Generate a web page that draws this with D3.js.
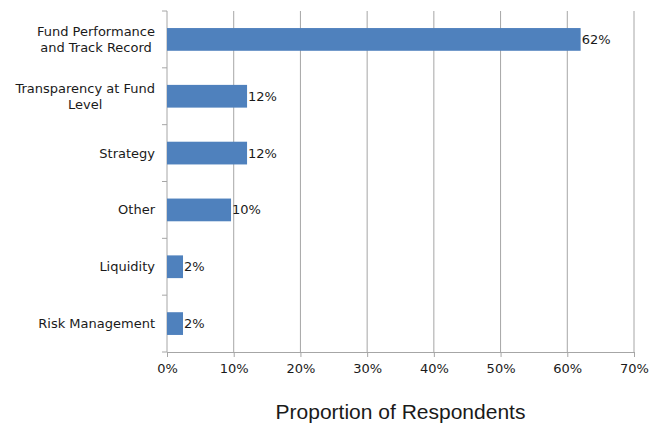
<!DOCTYPE html>
<html>
<head>
<meta charset="utf-8">
<script src="https://cdn.jsdelivr.net/npm/d3@7"></script>
<style>
  body { margin: 0; background: #fff; }
  text { font-family: "DejaVu Sans", sans-serif; fill: #1a1a1a; }
</style>
</head>
<body>
<svg id="chart" width="661" height="423"></svg>
<script>
// categories top to bottom
var categories = [
  ["Fund Performance", "and Track Record"],
  ["Transparency at Fund", "Level"],
  ["Strategy"],
  ["Other"],
  ["Liquidity"],
  ["Risk Management"]
]
var values = [62, 12, 12, 9.6, 2.4, 2.4]
var valueLabels = ["62%", "12%", "12%", "10%", "2%", "2%"]
var xTicks = [0, 10, 20, 30, 40, 50, 60, 70]

var svg = d3.select("#chart")
var margin = {left: 167, right: 27, top: 11, bottom: 71}
var width = 661 - margin.left - margin.right,
    height = 423 - margin.top - margin.bottom

var g = svg.append("g").attr("transform", "translate(" + margin.left + "," + margin.top + ")")

var x = d3.scaleLinear().domain([0, 70]).range([0, width])
var y = d3.scaleBand().domain(d3.range(categories.length)).range([0, height]).paddingInner(0.6).paddingOuter(0.3)

var gridColor = "#a6a6a6"

// vertical gridlines
g.append("g").selectAll("line")
  .data(xTicks.slice(1))
  .enter().append("line")
  .attr("x1", d => x(d)).attr("x2", d => x(d))
  .attr("y1", 0).attr("y2", height)
  .attr("stroke", gridColor).attr("stroke-width", 1)

// x axis
var xAxis = g.append("g")
  .attr("transform", "translate(0," + height + ")")
  .call(d3.axisBottom(x).tickValues(xTicks).tickFormat(d => d + "%").tickSize(5).tickSizeOuter(0).tickPadding(7))
xAxis.select(".domain").attr("stroke", gridColor)
xAxis.selectAll(".tick line").attr("stroke", gridColor)
xAxis.selectAll("text").style("font-size", "13px").attr("fill", "#1a1a1a")

// y axis: line with ticks at category boundaries
var yline = g.append("g")
yline.append("line")
  .attr("x1", 0).attr("x2", 0).attr("y1", 0).attr("y2", height)
  .attr("stroke", gridColor)
var step = height / categories.length
yline.selectAll(".bt")
  .data(d3.range(categories.length + 1))
  .enter().append("line")
  .attr("x1", -5).attr("x2", 0)
  .attr("y1", d => d * step).attr("y2", d => d * step)
  .attr("stroke", gridColor)

// bars
g.append("g").selectAll("rect")
  .data(values)
  .enter().append("rect")
  .attr("x", 0)
  .attr("y", (d, i) => y(i))
  .attr("width", d => x(d))
  .attr("height", y.bandwidth())
  .attr("fill", "#4f81bd")

// value labels
g.append("g").selectAll("text")
  .data(values)
  .enter().append("text")
  .attr("x", d => x(d) + 1)
  .attr("y", (d, i) => y(i) + y.bandwidth() / 2)
  .attr("dy", "0.35em")
  .style("font-size", "13px")
  .text((d, i) => valueLabels[i])

// category labels: wrapped lines are centred on each other, block right-aligned
var cat = g.append("g").selectAll("text")
  .data(categories)
  .enter().append("text")
  .attr("text-anchor", "middle")
  .style("font-size", "13px")
  .attr("transform", (d, i) => "translate(-12," + (y(i) + y.bandwidth() / 2) + ")")
cat.each(function(lines) {
  var t = d3.select(this)
  var lh = 16
  var off = -(lines.length - 1) * lh / 2
  var spans = lines.map((l, k) =>
    t.append("tspan").attr("y", off + k * lh).attr("dy", "0.35em").text(l))
  var w = d3.max(spans, s => s.node().getComputedTextLength())
  spans.forEach(s => s.attr("x", -w / 2))
})

// axis title
svg.append("text")
  .attr("x", margin.left + width / 2)
  .attr("y", 419)
  .attr("text-anchor", "middle")
  .style("font-family", "'Liberation Sans', Arial, sans-serif")
  .style("font-size", "21px")
  .text("Proportion of Respondents")
</script>
</body>
</html>
